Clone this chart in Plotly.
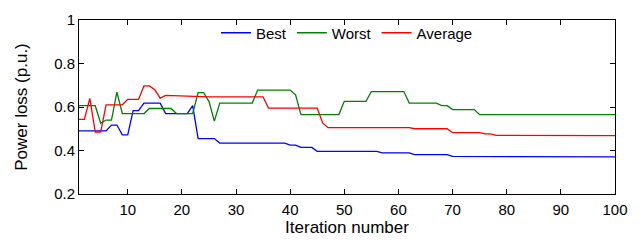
import plotly.graph_objects as go

iterations = list(range(1, 101))

best = ([0.49] * 6 + [0.517] * 2 + [0.472] * 2 + [0.583] * 2 + [0.618] * 4 +
        [0.57] * 5 + [0.606] + [0.455] * 4 + [0.434] * 13 + [0.425] * 2 +
        [0.414] * 3 + [0.396] * 12 + [0.389] * 6 + [0.381] * 7 + [0.373] * 17 +
        [0.371] * 14)

worst = ([0.606] * 4 + [0.525] + [0.54] * 2 + [0.668] + [0.57] * 5 +
         [0.593] * 5 + [0.57] * 4 + [0.666] * 2 + [0.626] + [0.535] +
         [0.618] * 7 + [0.678] * 7 + [0.656] + [0.565] * 8 + [0.626] * 5 +
         [0.671] * 7 + [0.618] * 6 + [0.606] * 2 + [0.588] * 5 + [0.565] * 26)

average = ([0.543] * 2 + [0.64] + [0.485] * 2 + [0.61] * 4 + [0.635] * 3 +
           [0.697] * 2 + [0.679] + [0.641] + [0.653] + [0.652] + [0.651] +
           [0.65] + [0.649] + [0.647] * 14 + [0.595] * 10 + [0.527] +
           [0.505] * 16 + [0.5] * 7 + [0.482] * 6 + [0.476] * 2 + [0.47] * 16 +
           [0.468] * 7)

x_ticks = [10, 20, 30, 40, 50, 60, 70, 80, 90, 100]
y_ticks = [0.2, 0.4, 0.6, 0.8, 1.0]
y_tick_labels = ["0.2", "0.4", "0.6", "0.8", "1"]

series = [("Best", best, "#0000FF"), ("Worst", worst, "#008000"), ("Average", average, "#FF0000")]

fig = go.Figure()
for name, vals, color in series:
    fig.add_trace(go.Scatter(x=iterations, y=vals, mode="lines", name=name,
                             line=dict(color=color, width=1.3)))

FONT = "Liberation Sans, Arial, sans-serif"
# page body has an 8px default margin, so the figure is sized to fit after it
fig.update_layout(
    width=635, height=235,
    margin=dict(l=71, r=28, t=9, b=49),
    paper_bgcolor="white", plot_bgcolor="white",
    font=dict(family=FONT, size=15, color="black"),
    showlegend=True,
    legend=dict(orientation="h", x=0.5, xanchor="center", y=1.02, yanchor="top",
                bgcolor="rgba(0,0,0,0)", font=dict(size=15), itemwidth=30,
                tracegroupgap=0),
)
fig.update_xaxes(range=[1, 100], tickvals=x_ticks, ticks="inside", ticklen=5,
                 tickcolor="black", showline=True, linecolor="black", linewidth=1,
                 mirror="ticks", showgrid=False, zeroline=False, automargin=False,
                 ticklabelstandoff=2,
                 title=dict(text="Iteration number", font=dict(size=17), standoff=2))
fig.update_yaxes(range=[0.2, 1.0], tickvals=y_ticks, ticktext=y_tick_labels,
                 ticks="inside", ticklen=5, tickcolor="black", showline=True,
                 linecolor="black", linewidth=1, mirror="ticks", showgrid=False,
                 zeroline=False, automargin=False,
                 title=dict(text="Power loss (p.u.)", font=dict(size=17), standoff=22))

fig.write_html("out.html")
